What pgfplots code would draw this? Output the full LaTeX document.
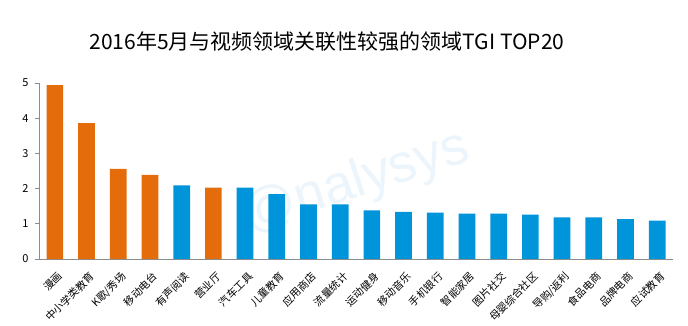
\documentclass[border=0pt]{standalone}
\usepackage{pgfplots}
\pgfplotsset{compat=1.18}
\usepackage{fontspec}
\setmainfont{Noto Sans CJK SC}
\newfontfamily\wmfont{Liberation Sans}
\definecolor{myorange}{RGB}{228,108,10}
\definecolor{myblue}{RGB}{0,148,218}
\definecolor{axgray}{RGB}{140,140,140}
\definecolor{wm}{RGB}{236,245,251}
\begin{document}
\begin{tikzpicture}
\useasboundingbox (0pt,0pt) rectangle (688pt,326pt);
\node[font=\fontsize{21}{23}\selectfont] at (327pt,284pt) {2016年5月与视频领域关联性较强的领域TGI TOP20};
\node[font=\wmfont\fontsize{54}{56}\selectfont, text=wm, rotate=18] at (356pt,143pt) {@nalysys};
\begin{axis}[
  at={(39pt,67pt)}, anchor=south west,
  scale only axis, width=634pt, height=176pt,
  xmin=-0.5, xmax=19.5, ymin=0, ymax=5,
  axis x line*=bottom, axis y line*=left,
  axis line style={axgray, line width=0.8pt},
  ytick={0,1,2,3,4,5},
  xtick={0,...,19},
  xticklabels={漫画,中小学类教育,K歌/秀场,移动电台,有声阅读,营业厅,汽车工具,儿童教育,应用商店,流量统计,运动健身,移动音乐,手机银行,智能家居,图片社交,母婴综合社区,导购/返利,食品电商,品牌电商,应试教育},
  x tick label style={rotate=45, anchor=north east, font=\fontsize{10.5}{11}\selectfont, inner sep=1pt, xshift=-3pt, yshift=-6pt},
  y tick label style={font=\fontsize{11}{12}\selectfont, xshift=-3pt},
  /pgf/number format/assume math mode=true,
  xtick style={draw=none},
  ytick style={axgray, line width=0.6pt},
  tick align=outside, major tick length=4pt,
  ybar, bar width=16.7pt, bar shift=0pt,
  clip=false,
]
\addplot[fill=myorange, draw=none] coordinates {(0,4.94) (1,3.86) (2,2.56) (3,2.39) (5,2.03)};
\addplot[fill=myblue, draw=none] coordinates {(4,2.09) (6,2.03) (7,1.84) (8,1.55) (9,1.55) (10,1.38) (11,1.34) (12,1.32) (13,1.29) (14,1.29) (15,1.26) (16,1.18) (17,1.18) (18,1.13) (19,1.09)};
\end{axis}
\end{tikzpicture}
\end{document}
